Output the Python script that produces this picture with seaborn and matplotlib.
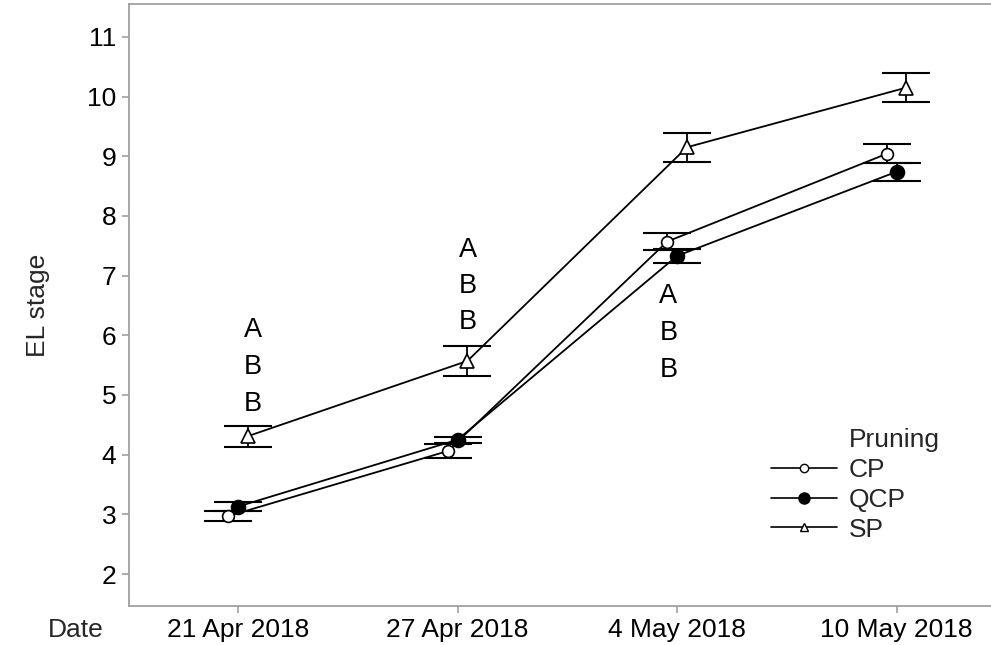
import matplotlib
matplotlib.use("Agg")
import matplotlib.pyplot as plt
from matplotlib.lines import Line2D
import seaborn as sns
import pandas as pd

# ---- data ----
dates = ["21 Apr 2018", "27 Apr 2018", "4 May 2018", "10 May 2018"]
groups = ["CP", "QCP", "SP"]
cp_mean = [2.97, 4.06, 7.57, 9.04]
qcp_mean = [3.13, 4.25, 7.33, 8.74]
sp_mean = [4.31, 5.57, 9.15, 10.15]
cp_se = [0.085, 0.11, 0.14, 0.16]
qcp_se = [0.075, 0.05, 0.12, 0.15]
sp_se = [0.175, 0.25, 0.24, 0.25]
letters = [["A", "B", "B"], ["A", "B", "B"], ["A", "B", "B"]]
letter_dates = ["21 Apr 2018", "27 Apr 2018", "4 May 2018"]

# annotation placement (styling)
letter_xoff = [0.068, 0.048, -0.04]
letter_y = [[6.08, 5.46, 4.85], [7.43, 6.83, 6.23], [6.65, 6.04, 5.42]]

means = {"CP": cp_mean, "QCP": qcp_mean, "SP": sp_mean}
ses = {"CP": cp_se, "QCP": qcp_se, "SP": sp_se}
rows = []
for g in groups:
    for d, m, s in zip(dates, means[g], ses[g]):
        rows.append({"Date": d, "Pruning": g, "EL": m, "se": s})
df = pd.DataFrame(rows)

sns.set_theme(style="white")
plt.rcParams["font.family"] = ["Liberation Sans", "DejaVu Sans"]
FS = 19

fig = plt.figure(figsize=(9.91, 6.45), dpi=100)
ax = fig.add_axes([129 / 991, 39 / 645, 1 - 129 / 991, (606 - 4) / 645])

markers = {"CP": "o", "QCP": "o", "SP": "^"}
sns.pointplot(data=df, x="Date", y="EL", hue="Pruning", order=dates,
              hue_order=groups, palette=["black"] * 3,
              markers=[markers[g] for g in groups], linestyles="-",
              dodge=0.09, errorbar=None, ax=ax, legend=False,
              linewidth=1.3, markersize=9)

lines = [l for l in ax.lines if len(l.get_xdata()) == len(dates)]
face = {"CP": "white", "QCP": "black", "SP": "white"}
msize = {"CP": 8.5, "QCP": 10, "SP": 9.5}
for g, ln in zip(groups, lines):
    ln.set_markerfacecolor(face[g])
    ln.set_markeredgecolor("black")
    ln.set_markersize(msize[g])
    ln.set_markeredgewidth(1.2)
    ln.set_zorder(3)
    xs = ln.get_xdata()
    ax.errorbar(xs, means[g], yerr=ses[g], fmt="none", ecolor="black",
                elinewidth=1.3, capsize=17, capthick=1.5, zorder=2)

# letters
for d, xo, labs, ys in zip(letter_dates, letter_xoff, letters, letter_y):
    xi = dates.index(d)
    for lab, yy in zip(labs, ys):
        ax.text(xi + xo, yy, lab, ha="center", va="center", fontsize=19.5,
                color="black")

ax.set_xlim(-0.497, 3.43)
ax.set_ylim(1.464, 11.55)
ax.set_yticks(range(2, 12))
ax.set_xlabel("")
ax.set_ylabel("EL stage", fontsize=FS, labelpad=27)

for s in ["left", "bottom", "top"]:
    ax.spines[s].set_color("#a0a0a0")
    ax.spines[s].set_linewidth(1.3)
ax.spines["right"].set_visible(False)
ax.tick_params(axis="both", which="both", direction="out", length=5,
               width=1.2, color="#a0a0a0", labelsize=FS, labelcolor="black",
               pad=4, bottom=True, left=True)

fig.text(76 / 991, 1 - 630 / 645, "Date", ha="center", va="center",
         fontsize=FS)

# legend
handles = [Line2D([], [], alpha=0)]
labels = ["Pruning"]
for g in groups:
    handles.append(Line2D([], [], color="black", lw=1.2, marker=markers[g],
                          markerfacecolor=face[g], markeredgecolor="black",
                          markersize=6 if g != "QCP" else 8))
    labels.append(g)
leg = ax.legend(handles, labels, frameon=False, loc="upper left",
                bbox_to_anchor=(0.732, 0.313), fontsize=FS, handlelength=2.5,
                handletextpad=0.45, labelspacing=0.22, borderaxespad=0)

fig.savefig("out.png", dpi=100)
